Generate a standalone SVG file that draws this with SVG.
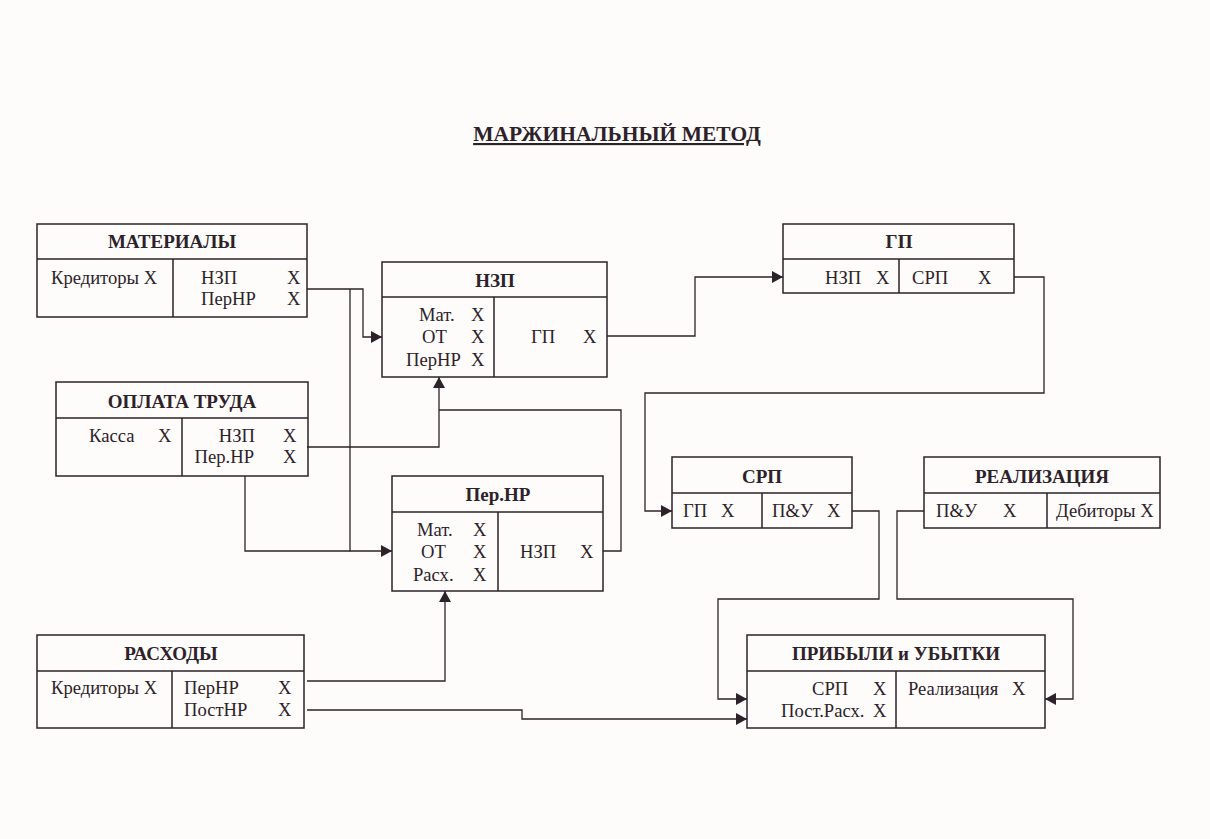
<svg xmlns="http://www.w3.org/2000/svg" width="1210" height="839" viewBox="0 0 1210 839">
<style>
.box{fill:none;stroke:#2d2229;stroke-width:1.5}
.t{font-family:"Liberation Serif","Times New Roman",serif;font-size:18.6px;fill:#2d2229}
.h{font-family:"Liberation Serif","Times New Roman",serif;font-size:19px;font-weight:bold;fill:#2d2229;text-anchor:middle}
.ttl{font-family:"Liberation Serif","Times New Roman",serif;font-size:21.5px;font-weight:bold;fill:#2d2229;text-anchor:middle;text-decoration:underline}
.c{fill:none;stroke:#2d2229;stroke-width:1.3}
</style>
<defs>
<marker id="ar" markerUnits="userSpaceOnUse" markerWidth="12" markerHeight="12" refX="11" refY="6" orient="auto" viewBox="0 0 12 12">
<path d="M0,0 L11,6 L0,12 z" fill="#2d2229"/>
</marker>
</defs>
<rect width="1210" height="839" fill="#fdfcfb"/>
<text x="617" y="141" class="ttl">МАРЖИНАЛЬНЫЙ МЕТОД</text>

<g id="connectors">
<path class="c" d="M307,289 H363 V337 H382" marker-end="url(#ar)"/>
<path class="c" d="M350,289 V551 H392" marker-end="url(#ar)"/>
<path class="c" d="M245,476 V551 H350"/>
<path class="c" d="M307,447 H439 V377" marker-end="url(#ar)"/>
<path class="c" d="M603,551 H621 V410 H439"/>
<path class="c" d="M307,681 H445 V591" marker-end="url(#ar)"/>
<path class="c" d="M307,710 H522 V719 H747" marker-end="url(#ar)"/>
<path class="c" d="M607,336 H695 V277 H783" marker-end="url(#ar)"/>
<path class="c" d="M1014,277 H1044 V393 H645 V511 H672" marker-end="url(#ar)"/>
<path class="c" d="M852,511 H879 V599 H718 V699 H747" marker-end="url(#ar)"/>
<path class="c" d="M924,511 H897 V599 H1073 V699 H1045" marker-end="url(#ar)"/>
</g>

<g id="materials">
<rect class="box" x="37" y="224" width="270" height="93"/>
<line class="box" x1="37" y1="259" x2="307" y2="259"/>
<line class="box" x1="173" y1="259" x2="173" y2="317"/>
<text class="h" x="172" y="248">МАТЕРИАЛЫ</text>
<text class="t" x="51" y="284">Кредиторы X</text>
<text class="t" x="201" y="284">НЗП</text><text class="t" x="287" y="284">X</text>
<text class="t" x="201" y="305">ПерНР</text><text class="t" x="287" y="305">X</text>
</g>

<g id="labor">
<rect class="box" x="56" y="382" width="252" height="94"/>
<line class="box" x1="56" y1="418" x2="308" y2="418"/>
<line class="box" x1="182" y1="418" x2="182" y2="476"/>
<text class="h" x="182" y="408">ОПЛАТА ТРУДА</text>
<text class="t" x="89" y="442">Касса</text><text class="t" x="158" y="442">X</text>
<text class="t" x="255" y="442" text-anchor="end">НЗП</text><text class="t" x="283" y="442">X</text>
<text class="t" x="254" y="463" text-anchor="end">Пер.НР</text><text class="t" x="283" y="463">X</text>
</g>

<g id="expenses">
<rect class="box" x="37" y="635" width="267" height="93"/>
<line class="box" x1="37" y1="671" x2="304" y2="671"/>
<line class="box" x1="172" y1="671" x2="172" y2="728"/>
<text class="h" x="171" y="660">РАСХОДЫ</text>
<text class="t" x="51" y="694">Кредиторы X</text>
<text class="t" x="184" y="694">ПерНР</text><text class="t" x="278" y="694">X</text>
<text class="t" x="184" y="716">ПостНР</text><text class="t" x="278" y="716">X</text>
</g>

<g id="wip">
<rect class="box" x="382" y="262" width="225" height="115"/>
<line class="box" x1="382" y1="297" x2="607" y2="297"/>
<line class="box" x1="494" y1="297" x2="494" y2="377"/>
<text class="h" x="495" y="287">НЗП</text>
<text class="t" x="419" y="321">Мат.</text><text class="t" x="471" y="321">X</text>
<text class="t" x="422" y="343">ОТ</text><text class="t" x="471" y="343">X</text>
<text class="t" x="406" y="366">ПерНР</text><text class="t" x="471" y="366">X</text>
<text class="t" x="531" y="343">ГП</text><text class="t" x="583" y="343">X</text>
</g>

<g id="varoh">
<rect class="box" x="392" y="476" width="211" height="115"/>
<line class="box" x1="392" y1="512" x2="603" y2="512"/>
<line class="box" x1="498" y1="512" x2="498" y2="591"/>
<text class="h" x="498" y="501">Пер.НР</text>
<text class="t" x="417" y="536">Мат.</text><text class="t" x="473" y="536">X</text>
<text class="t" x="421" y="558">ОТ</text><text class="t" x="473" y="558">X</text>
<text class="t" x="413" y="581">Расх.</text><text class="t" x="473" y="581">X</text>
<text class="t" x="520" y="558">НЗП</text><text class="t" x="580" y="558">X</text>
</g>

<g id="fg">
<rect class="box" x="783" y="224" width="231" height="69"/>
<line class="box" x1="783" y1="259" x2="1014" y2="259"/>
<line class="box" x1="899" y1="259" x2="899" y2="293"/>
<text class="h" x="899" y="248">ГП</text>
<text class="t" x="825" y="284">НЗП</text><text class="t" x="876" y="284">X</text>
<text class="t" x="912" y="284">СРП</text><text class="t" x="978" y="284">X</text>
</g>

<g id="cogs">
<rect class="box" x="672" y="457" width="180" height="71"/>
<line class="box" x1="672" y1="493" x2="852" y2="493"/>
<line class="box" x1="762" y1="493" x2="762" y2="528"/>
<text class="h" x="762" y="483">СРП</text>
<text class="t" x="683" y="517">ГП</text><text class="t" x="721" y="517">X</text>
<text class="t" x="772" y="517">П&amp;У</text><text class="t" x="827" y="517">X</text>
</g>

<g id="sales">
<rect class="box" x="924" y="457" width="236" height="71"/>
<line class="box" x1="924" y1="493" x2="1160" y2="493"/>
<line class="box" x1="1047" y1="493" x2="1047" y2="528"/>
<text class="h" x="1042" y="483">РЕАЛИЗАЦИЯ</text>
<text class="t" x="936" y="517">П&amp;У</text><text class="t" x="1003" y="517">X</text>
<text class="t" x="1056" y="517">Дебиторы X</text>
</g>

<g id="pl">
<rect class="box" x="747" y="635" width="298" height="93"/>
<line class="box" x1="747" y1="671" x2="1045" y2="671"/>
<line class="box" x1="896" y1="671" x2="896" y2="728"/>
<text class="h" x="896" y="660">ПРИБЫЛИ и УБЫТКИ</text>
<text class="t" x="812" y="695">СРП</text><text class="t" x="873" y="695">X</text>
<text class="t" x="781" y="717">Пост.Расх.</text><text class="t" x="873" y="717">X</text>
<text class="t" x="908" y="695">Реализация</text><text class="t" x="1012" y="695">X</text>
</g>
</svg>
